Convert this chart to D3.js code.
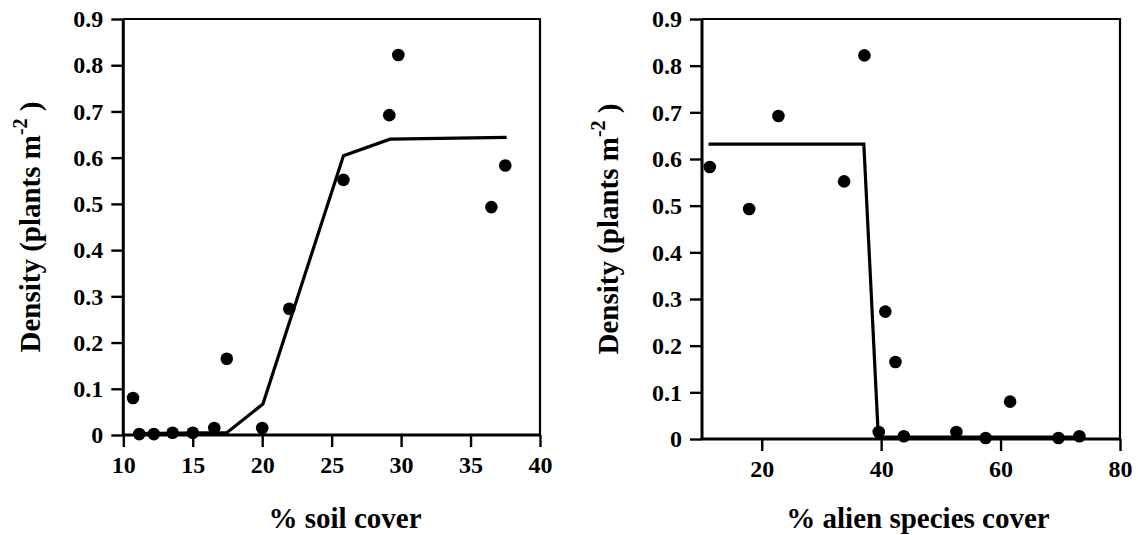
<!DOCTYPE html>
<html>
<head>
<meta charset="utf-8">
<script src="https://cdn.jsdelivr.net/npm/d3@7"></script>
<style>
  html, body { margin: 0; padding: 0; background: #fff; }
  svg { display: block; }
  text { font-family: "Liberation Serif", "Times New Roman", serif; font-weight: bold; fill: #000; }
</style>
</head>
<body>
<svg id="chart" width="1138" height="535"></svg>
<script>
// ---- Data ----
const soilCover    = [10.7, 11.15, 12.2, 13.55, 15.0, 16.55, 17.45, 20.0, 21.95, 25.85, 29.15, 29.8, 36.5, 37.5];
const densitySoil  = [0.08, 0.002, 0.002, 0.005, 0.005, 0.015, 0.165, 0.015, 0.273, 0.552, 0.692, 0.822, 0.493, 0.583];
const soilFitX     = [10.7, 17.45, 20.05, 25.85, 29.2, 37.6];
const soilFitY     = [0.003, 0.005, 0.067, 0.604, 0.640, 0.644];

const alienCover   = [11.3, 17.9, 22.8, 33.8, 37.2, 39.6, 40.7, 42.4, 43.8, 52.6, 57.5, 61.6, 69.7, 73.2];
const densityAlien = [0.583, 0.493, 0.692, 0.552, 0.822, 0.015, 0.273, 0.165, 0.006, 0.015, 0.002, 0.08, 0.002, 0.006];
const alienFitX    = [11.1, 37.1, 39.5, 40.3, 73.3];
const alienFitY    = [0.632, 0.632, 0.012, 0.004, 0.004];

const yTicks       = [0, 0.1, 0.2, 0.3, 0.4, 0.5, 0.6, 0.7, 0.8, 0.9];
const soilTicks    = [10, 15, 20, 25, 30, 35, 40];
const alienTicks   = [20, 40, 60, 80];

const yTitle = "Density (plants m";
const ySup = "-2";
const yTitleEnd = " )";
const soilTitle = "% soil cover";
const alienTitle = "% alien species cover";

const svg = d3.select("#chart");

function panel(opts) {
  const x = d3.scaleLinear().domain(opts.xDomain).range([opts.left, opts.right]);
  const y = d3.scaleLinear().domain([0, 0.9]).range([opts.bottom, opts.top]);
  const g = svg.append("g");

  // frame (top and right)
  g.append("path")
    .attr("d", `M${opts.left},${opts.top}H${opts.right}V${opts.bottom}`)
    .attr("fill", "none").attr("stroke", "#000").attr("stroke-width", 2.2);

  const yAxis = d3.axisLeft(y).tickValues(yTicks).tickSize(12).tickPadding(8)
    .tickFormat(d => d === 0 ? "0" : d3.format(".1f")(d));
  const ya = g.append("g").attr("transform", `translate(${opts.left},0)`).call(yAxis);

  const xAxis = d3.axisBottom(x).tickValues(opts.xTicks).tickSize(12).tickPadding(9)
    .tickFormat(d3.format("d"));
  const xa = g.append("g").attr("transform", `translate(0,${opts.bottom})`).call(xAxis);

  [ya, xa].forEach(a => {
    a.attr("font-family", null).attr("font-size", null);
    a.select(".domain").attr("stroke", "#000").attr("stroke-width", 3);
    a.selectAll(".tick line").attr("stroke", "#000").attr("stroke-width", 2.4);
    a.selectAll(".tick text").attr("font-size", 24)
      .attr("font-weight", "bold").attr("fill", "#000");
  });
  ya.select(".domain").attr("d", `M0,${opts.bottom}V${opts.top}`);
  xa.select(".domain").attr("d", `M${opts.left},0H${opts.right}`);

  // fitted line
  const line = d3.line().x(d => x(d[0])).y(d => y(d[1]));
  g.append("path")
    .datum(d3.zip(opts.fitX, opts.fitY))
    .attr("d", line)
    .attr("fill", "none").attr("stroke", "#000").attr("stroke-width", 3.2)
    .attr("stroke-linejoin", "miter");

  // points
  g.selectAll("circle.pt").data(d3.zip(opts.px, opts.py)).join("circle")
    .attr("class", "pt")
    .attr("cx", d => x(d[0])).attr("cy", d => y(d[1])).attr("r", 6.3)
    .attr("fill", "#000");

  // x title
  g.append("text")
    .attr("x", opts.xTitleX).attr("y", 528)
    .attr("text-anchor", "middle").attr("font-size", 29)
    .text(opts.xTitle);

  // y title
  const yt = g.append("text")
    .attr("transform", `translate(${opts.yTitleX},${(opts.top + opts.bottom) / 2}) rotate(-90)`)
    .attr("text-anchor", "middle").attr("font-size", 29);
  yt.append("tspan").text(yTitle);
  yt.append("tspan").attr("font-size", 20).attr("dy", -13).text(ySup);
  yt.append("tspan").attr("dy", 13).text(yTitleEnd);
}

panel({
  xDomain: [10, 40], left: 123.3, right: 540, top: 19, bottom: 435,
  xTicks: soilTicks, fitX: soilFitX, fitY: soilFitY, px: soilCover, py: densitySoil,
  xTitle: soilTitle, xTitleX: 345, yTitleX: 40
});

panel({
  xDomain: [10, 80], left: 702, right: 1120, top: 19, bottom: 439,
  xTicks: alienTicks, fitX: alienFitX, fitY: alienFitY, px: alienCover, py: densityAlien,
  xTitle: alienTitle, xTitleX: 918, yTitleX: 618
});
</script>
</body>
</html>
